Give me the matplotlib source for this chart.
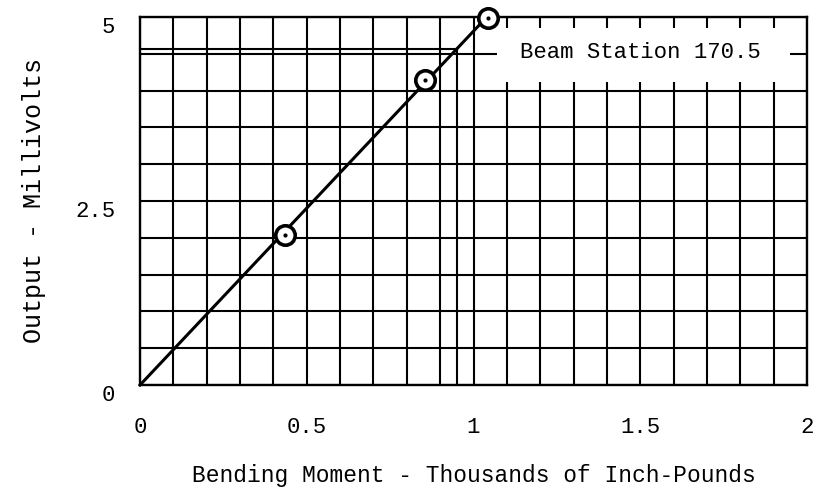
import matplotlib
matplotlib.use("Agg")
import matplotlib.pyplot as plt
from matplotlib.patches import Rectangle
import numpy as np

# calibration readings
moment_kip_in = [0.435, 0.855, 1.043]
output_mv = [2.04, 4.14, 4.98]

# calibration line through origin
line_x = [0.0, 1.04]
line_y = [0.0, 5.0]

# read-off point at the design load
read_x = 0.95
read_y = 4.57

station_label = "Beam Station 170.5"

plt.rcParams["font.family"] = ["Liberation Mono", "DejaVu Sans Mono"]

fig = plt.figure(figsize=(8.16, 4.95), dpi=100)
ax = fig.add_axes([0.1716, 0.2222, 0.8174, 0.7435])

ax.set_xlim(0, 2)
ax.set_ylim(0, 5)
ax.set_xticks([0, 0.5, 1, 1.5, 2])
ax.set_xticklabels(["0", "0.5", "1", "1.5", "2"])
ax.set_xticks(np.arange(0, 2.01, 0.1), minor=True)
ax.set_yticks([0, 2.5, 5])
ax.set_yticklabels(["0", "2.5", "5"])
ax.set_yticks(np.arange(0, 5.01, 0.5), minor=True)

ax.grid(which="both", color="black", linewidth=1.5, zorder=1)
ax.set_axisbelow(True)
ax.tick_params(which="both", length=0, labelsize=16, colors="black")
ax.tick_params(axis="x", pad=23)
ax.tick_params(axis="y", pad=18)
for lbl in ax.get_yticklabels():
    lbl.set_verticalalignment("top")
for s in ax.spines.values():
    s.set_linewidth(1.7)
    s.set_color("black")

# blank panel for the station label
ax.add_patch(Rectangle((1.07, 4.12), 0.88, 0.73, facecolor="white",
                       edgecolor="none", zorder=2))
ax.text(1.50, 4.52, station_label, ha="center", va="center",
        fontsize=16, zorder=3)

# read-off lines
ax.plot([0, read_x], [read_y, read_y], color="black", lw=1.5, zorder=3)
ax.plot([read_x, read_x], [0, read_y], color="black", lw=1.5, zorder=3)

ax.plot(line_x, line_y, color="black", lw=2.2, zorder=4, clip_on=False)
ax.plot(moment_kip_in, output_mv, linestyle="none", marker="o",
        markersize=14, markerfacecolor="white", markeredgecolor="black",
        markeredgewidth=2.6, zorder=5, clip_on=False)
ax.plot(moment_kip_in, output_mv, linestyle="none", marker="o",
        markersize=2, color="black", zorder=6, clip_on=False)

ax.set_xlabel("Bending Moment - Thousands of Inch-Pounds", fontsize=16.5,
              labelpad=19)
ax.set_ylabel("Output - Millivolts", fontsize=18, labelpad=21)

fig.savefig("out.png", dpi=100)
